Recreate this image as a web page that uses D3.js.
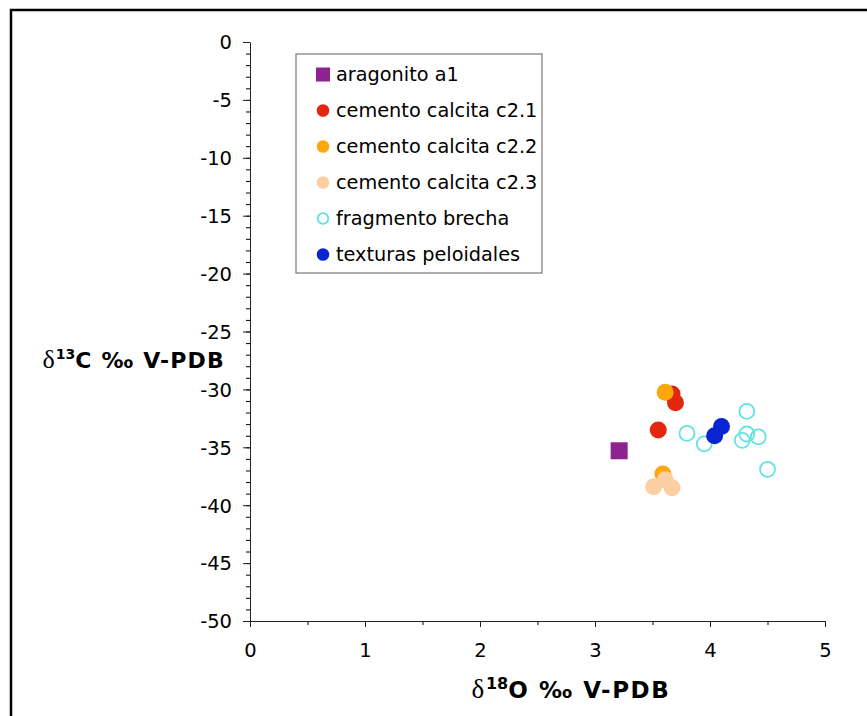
<!DOCTYPE html>
<html>
<head>
<meta charset="utf-8">
<script src="https://cdn.jsdelivr.net/npm/d3@7"></script>
<style>
  body { margin: 0; background: #fff; }
  svg { display: block; font-family: "DejaVu Sans", Verdana, sans-serif; }
</style>
</head>
<body>
<svg id="chart" width="867" height="716"></svg>
<script>
// series values: [d18O, d13C]
const aragonitoA1 = [[3.21, -35.3]];
const cementoC21 = [[3.67, -30.4], [3.70, -31.15], [3.55, -33.5]];
const cementoC22 = [[3.61, -30.25], [3.59, -37.3]];
const cementoC23 = [[3.51, -38.4], [3.61, -37.8], [3.67, -38.5]];
const fragmentoBrecha = [[4.32, -31.9], [3.80, -33.8], [3.95, -34.7], [4.32, -33.85], [4.28, -34.4], [4.42, -34.1], [4.50, -36.9]];
const texturasPeloidales = [[4.10, -33.2], [4.04, -34.0]];

const seriesNames = ['aragonito a1', 'cemento calcita c2.1', 'cemento calcita c2.2',
  'cemento calcita c2.3', 'fragmento brecha', 'texturas peloidales'];
const xTicks = [0, 1, 2, 3, 4, 5];
const yTicks = [0, -5, -10, -15, -20, -25, -30, -35, -40, -45, -50];

const series = [
  { name: seriesNames[0], data: aragonitoA1, shape: 'square', fill: '#8e2390', stroke: 'none' },
  { name: seriesNames[1], data: cementoC21, shape: 'circle', fill: '#e2260f', stroke: 'none' },
  { name: seriesNames[2], data: cementoC22, shape: 'circle', fill: '#fda70d', stroke: 'none' },
  { name: seriesNames[3], data: cementoC23, shape: 'circle', fill: '#fbcfa2', stroke: 'none' },
  { name: seriesNames[4], data: fragmentoBrecha, shape: 'circle', fill: 'none', stroke: '#62e2e2' },
  { name: seriesNames[5], data: texturasPeloidales, shape: 'circle', fill: '#0b24d2', stroke: 'none' }
];

const svg = d3.select('#chart');

// outer frame (runs off the right and bottom edges)
svg.append('rect')
  .attr('x', 11).attr('y', 10)
  .attr('width', 900).attr('height', 750)
  .attr('fill', 'none').attr('stroke', '#000').attr('stroke-width', 2.5);

const x = d3.scaleLinear().domain([0, 5]).range([250, 825]);
const y = d3.scaleLinear().domain([-50, 0]).range([621, 42]);

// minor ticks
svg.append('g')
  .attr('transform', `translate(${x(0)},0)`)
  .call(d3.axisLeft(y).tickValues(d3.range(-50, 1, 1)).tickSize(4).tickFormat(''))
  .call(g => g.select('.domain').remove());
svg.append('g')
  .attr('transform', `translate(0,${y(-50)})`)
  .call(d3.axisBottom(x).tickValues(d3.range(0.5, 5, 1)).tickSize(4).tickFormat(''))
  .call(g => g.select('.domain').remove());

// major axes (plain hyphen for negatives, as in the original)
const yAxis = svg.append('g')
  .attr('transform', `translate(${x(0)},0)`)
  .call(d3.axisLeft(y).tickValues(yTicks).tickSize(7).tickSizeOuter(0).tickPadding(11).tickFormat(d => String(d)));
const xAxis = svg.append('g')
  .attr('transform', `translate(0,${y(-50)})`)
  .call(d3.axisBottom(x).tickValues(xTicks).tickSize(6).tickSizeOuter(0).tickPadding(16).tickFormat(d => String(d)));

[yAxis, xAxis].forEach(a => {
  a.selectAll('text').attr('font-size', 19.5).attr('fill', '#000')
    .attr('font-family', '"DejaVu Sans", Verdana, sans-serif');
  a.selectAll('line, path').attr('stroke', '#222');
});
yAxis.selectAll('text').attr('dy', '0.35em');

// axis titles
const yTitle = svg.append('text')
  .attr('x', 225).attr('y', 368)
  .attr('text-anchor', 'end')
  .attr('font-weight', 'bold').attr('font-size', 22).attr('letter-spacing', 1.2);
yTitle.append('tspan').attr('font-family', '"Liberation Serif", serif').attr('font-weight', 'normal').attr('font-size', 26).text('δ');
yTitle.append('tspan').attr('font-size', 14).attr('dy', -9).attr('letter-spacing', 0).text('13');
yTitle.append('tspan').attr('dy', 9).text('C ‰ V-PDB');

const xTitle = svg.append('text')
  .attr('x', 571).attr('y', 698)
  .attr('text-anchor', 'middle')
  .attr('font-weight', 'bold').attr('font-size', 23).attr('letter-spacing', 1.6);
xTitle.append('tspan').attr('font-family', '"Liberation Serif", serif').attr('font-weight', 'normal').attr('font-size', 27).text('δ');
xTitle.append('tspan').attr('font-size', 16).attr('dy', -9).attr('letter-spacing', 0).text('18');
xTitle.append('tspan').attr('dy', 9).text('O ‰ V-PDB');

// points
function drawMarker(sel, s, size) {
  if (s.shape === 'square') {
    sel.append('rect')
      .attr('x', -size).attr('y', -size)
      .attr('width', size * 2).attr('height', size * 2)
      .attr('fill', s.fill);
  } else {
    sel.append('circle')
      .attr('r', s.fill === 'none' ? size - 1 : size)
      .attr('fill', s.fill)
      .attr('stroke', s.stroke)
      .attr('stroke-width', s.fill === 'none' ? 1.8 : 0);
  }
}

const plot = svg.append('g');
series.forEach(s => {
  plot.selectAll(null)
    .data(s.data)
    .enter().append('g')
    .attr('transform', d => `translate(${x(d[0])},${y(d[1])})`)
    .each(function () { drawMarker(d3.select(this), s, s.shape === 'square' ? 8.5 : 8.5); });
});

// legend
const legend = svg.append('g');
legend.append('rect')
  .attr('x', 296).attr('y', 54)
  .attr('width', 246).attr('height', 219)
  .attr('fill', '#fff').attr('stroke', '#777').attr('stroke-width', 1.2);

const legendItem = legend.selectAll('g.item')
  .data(series)
  .enter().append('g')
  .attr('class', 'item')
  .attr('transform', (d, i) => `translate(323,${74.5 + i * 36})`);
legendItem.each(function (s) { drawMarker(d3.select(this), s, s.shape === 'square' ? 7 : 6.3); });
legendItem.append('text')
  .attr('x', 13).attr('dy', '0.35em')
  .attr('font-size', 19.3)
  .attr('fill', '#000')
  .text(d => d.name);
</script>
</body>
</html>
